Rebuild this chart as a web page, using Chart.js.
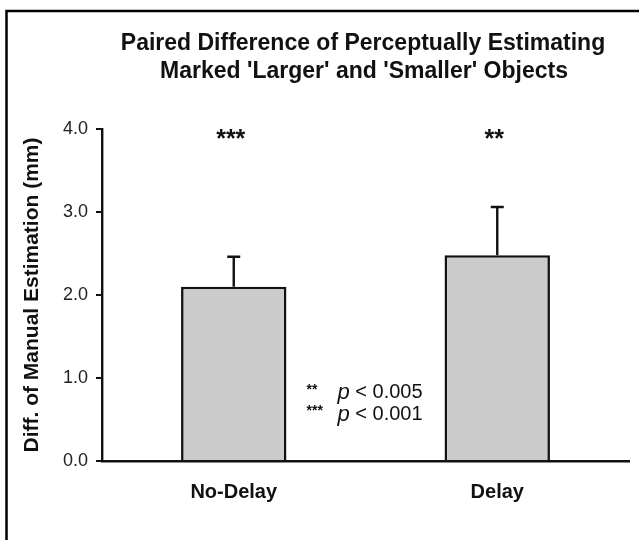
<!DOCTYPE html>
<html>
<head>
<meta charset="utf-8">
<script src="https://cdn.jsdelivr.net/npm/chart.js@4/dist/chart.umd.min.js"></script>
<style>
  html, body { margin:0; padding:0; background:#fff; }
  #wrap { width:639px; height:540px; position:relative; }
</style>
</head>
<body>
<div id="wrap"><canvas id="c"></canvas></div>
<script>
/* données */
const categories = ['No-Delay', 'Delay'];
const moyennes = [2.10, 2.48];
const erreurs = [0.36, 0.58];
const etoiles = ['***', '**'];
const yTicks = [0, 1, 2, 3, 4];
const titre = ['Paired Difference of Perceptually Estimating', "Marked 'Larger' and 'Smaller' Objects"];
const legende = [['**', 'p', ' < 0.005'], ['***', 'p', ' < 0.001']];

const NOIR = '#111';
const POLICE = '"Liberation Sans", Arial, sans-serif';

/* cadre, titre, barres d'erreur, étoiles, légende p */
const decor = {
  id: 'decor',
  beforeDraw(chart){
    const c = chart.ctx;
    c.save();
    c.fillStyle = '#fff';
    c.fillRect(0, 0, chart.width, chart.height);
    c.strokeStyle = '#000';
    c.lineWidth = 2.5;
    c.beginPath();
    c.moveTo(6.5, chart.height + 5);
    c.lineTo(6.5, 11);
    c.lineTo(chart.width + 5, 11);
    c.stroke();
    c.restore();
  },
  afterDatasetsDraw(chart){
    const c = chart.ctx, x = chart.scales.x, y = chart.scales.y;
    c.save();
    /* erreurs (haut seulement) */
    c.strokeStyle = NOIR; c.lineWidth = 2.4;
    moyennes.forEach((m, i) => {
      const px = x.getPixelForValue(i);
      const y0 = y.getPixelForValue(m), y1 = y.getPixelForValue(m + erreurs[i]);
      c.beginPath();
      c.moveTo(px, y0); c.lineTo(px, y1);
      c.moveTo(px - 6.5, y1); c.lineTo(px + 6.5, y1);
      c.stroke();
    });
    /* étoiles */
    c.fillStyle = NOIR;
    c.font = 'bold 25px ' + POLICE;
    c.textAlign = 'center'; c.textBaseline = 'middle';
    etoiles.forEach((s, i) => c.fillText(s, x.getPixelForValue(i) - 3, y.getPixelForValue(3.87)));
    /* titre */
    c.font = 'bold 23px ' + POLICE;
    c.fillText(titre[0], 363, 44);
    c.fillText(titre[1], 364, 72);
    /* légende des seuils */
    const xm = (x.getPixelForValue(0) + x.getPixelForValue(1)) / 2;
    [0.82, 0.56].forEach((v, k) => {
      const py = y.getPixelForValue(v);
      const [st, p, reste] = legende[k];
      c.textAlign = 'left';
      c.font = 'bold 14px ' + POLICE;
      c.fillText(st, xm - 59, py - 3);
      c.font = 'italic 22px ' + POLICE;
      c.fillText(p, xm - 28, py);
      const w = c.measureText(p).width;
      c.font = '20px ' + POLICE;
      c.fillText(reste, xm - 28 + w, py);
    });
    c.restore();
  }
};

new Chart(document.getElementById('c'), {
  type: 'bar',
  data: {
    labels: categories,
    datasets: [{
      data: moyennes,
      backgroundColor: '#cccccc',
      borderColor: NOIR,
      borderWidth: 2.6,
      borderSkipped: 'bottom',
      barPercentage: 0.40,
      categoryPercentage: 1.0
    }]
  },
  options: {
    responsive: true,
    maintainAspectRatio: false,
    animation: false,
    layout: { padding: { top: 129, right: 10, bottom: 0, left: 0 } },
    plugins: { legend: { display: false }, tooltip: { enabled: false } },
    scales: {
      x: {
        offset: true,
        grid: { display: false, drawTicks: false },
        border: { display: true, color: NOIR, width: 2.4 },
        ticks: { color: NOIR, padding: 19, font: { family: POLICE, size: 20, weight: 'bold' } },
        afterFit(s){ s.height = 79; }
      },
      y: {
        min: 0, max: 4,
        afterBuildTicks(s){ s.ticks = yTicks.map(v => ({ value: v })); },
        grid: { display: true, drawOnChartArea: false, drawTicks: true, tickLength: 6, color: NOIR, lineWidth: 2 },
        border: { display: true, color: NOIR, width: 2.4 },
        ticks: { color: '#222', padding: 8, font: { family: POLICE, size: 18 }, callback: v => v.toFixed(1) },
        title: { display: true, text: 'Diff. of Manual Estimation (mm)', color: NOIR, padding: { top: 20, bottom: 0 }, font: { family: POLICE, size: 21, weight: 'bold' } },
        afterFit(s){ s.width = 102; }
      }
    }
  },
  plugins: [decor]
});
</script>
</body>
</html>
